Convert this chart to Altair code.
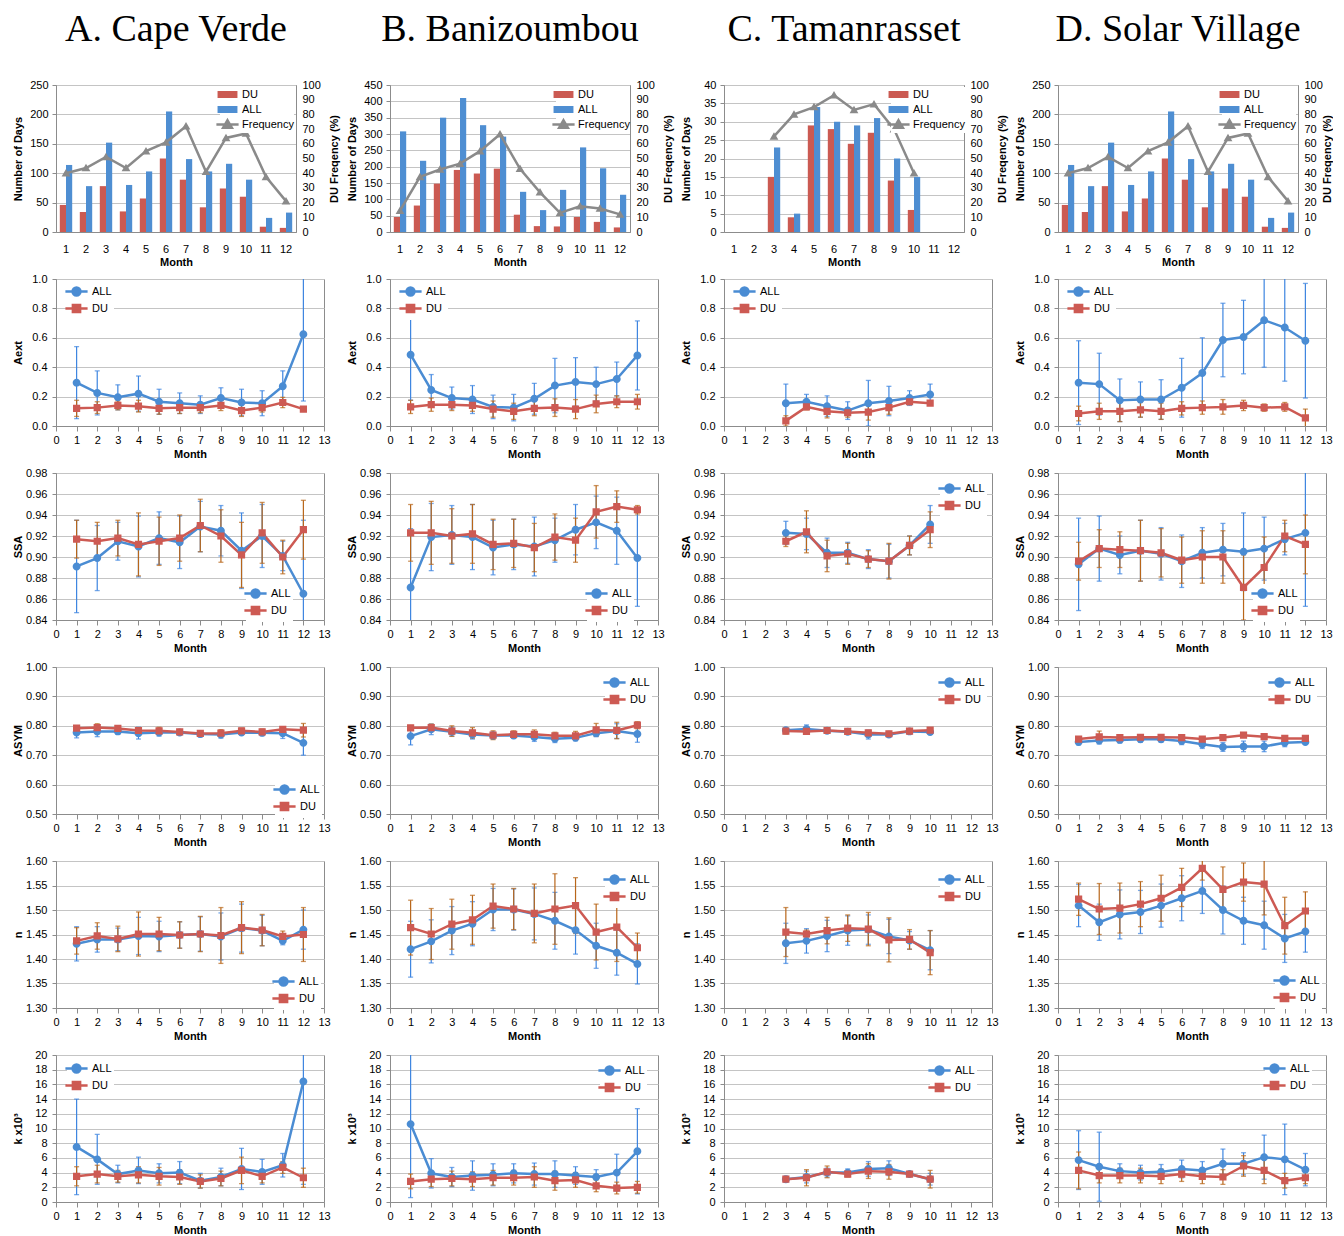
import altair as alt
import pandas as pd

SITES = ["A. Cape Verde", "B. Banizoumbou", "C. Tamanrasset", "D. Solar Village"]
MONTHS = list(range(1, 13))
MONTHS_TM = list(range(3, 11))

# ---------------- Row 1: number of days and DU frequency ----------------
CV_DAYS_DU = [46, 34, 78, 35, 57, 125, 89, 42, 74, 60, 9, 7]
CV_DAYS_ALL = [114, 78, 152, 80, 103, 205, 124, 103, 116, 89, 24, 33]
CV_FREQ = [40, 43.5, 51, 43.5, 55, 61, 72, 41, 64, 67, 37.5, 21]
BZ_DAYS_DU = [46, 81, 148, 190, 179, 194, 53, 18, 17, 46, 31, 14]
BZ_DAYS_ALL = [308, 218, 350, 410, 327, 292, 123, 67, 129, 259, 195, 114]
BZ_FREQ = [14.5, 37.5, 42.5, 46.5, 55, 66.5, 43, 27, 13, 17.5, 16, 12]
TM_DAYS_DU = [15, 4, 29, 28, 24, 27, 14, 6]
TM_DAYS_ALL = [23, 5, 34, 30, 29, 31, 20, 15]
TM_FREQ = [65, 80, 85, 93, 83, 87, 70, 40]
SV_DAYS_DU = [46, 34, 78, 35, 57, 125, 89, 42, 74, 60, 9, 7]
SV_DAYS_ALL = [114, 78, 152, 80, 103, 205, 124, 103, 116, 89, 24, 33]
SV_FREQ = [40, 43.5, 51, 43.5, 55, 61, 72, 41, 64, 67, 37.5, 21]

# ---------------- Aext ----------------
CV_AEXT_ALL = [0.295, 0.225, 0.195, 0.22, 0.165, 0.155, 0.145, 0.19, 0.16, 0.155, 0.27, 0.625]
CV_AEXT_ALL_SD = [0.245, 0.15, 0.085, 0.12, 0.085, 0.07, 0.06, 0.07, 0.09, 0.085, 0.105, 0.455]
CV_AEXT_DU = [0.12, 0.125, 0.14, 0.135, 0.12, 0.125, 0.125, 0.14, 0.105, 0.125, 0.16, 0.115]
CV_AEXT_DU_SD = [0.055, 0.04, 0.03, 0.04, 0.04, 0.04, 0.035, 0.035, 0.04, 0.03, 0.035, 0.015]
BZ_AEXT_ALL = [0.485, 0.245, 0.19, 0.18, 0.13, 0.125, 0.185, 0.275, 0.30, 0.285, 0.32, 0.48]
BZ_AEXT_ALL_SD = [0.31, 0.105, 0.075, 0.095, 0.08, 0.09, 0.105, 0.185, 0.165, 0.115, 0.115, 0.235]
BZ_AEXT_DU = [0.13, 0.145, 0.145, 0.14, 0.115, 0.10, 0.12, 0.125, 0.115, 0.15, 0.165, 0.165]
BZ_AEXT_DU_SD = [0.045, 0.045, 0.04, 0.04, 0.055, 0.055, 0.05, 0.06, 0.065, 0.06, 0.04, 0.05]
TM_AEXT_ALL = [0.155, 0.165, 0.135, 0.105, 0.155, 0.17, 0.19, 0.215]
TM_AEXT_ALL_SD = [0.13, 0.05, 0.07, 0.06, 0.155, 0.10, 0.05, 0.07]
TM_AEXT_DU = [0.035, 0.13, 0.10, 0.09, 0.095, 0.125, 0.165, 0.155]
TM_AEXT_DU_SD = [0.035, 0.02, 0.045, 0.03, 0.055, 0.045, 0.02, 0.01]
SV_AEXT_ALL = [0.295, 0.285, 0.175, 0.18, 0.18, 0.26, 0.36, 0.585, 0.605, 0.72, 0.67, 0.58]
SV_AEXT_ALL_SD = [0.285, 0.21, 0.145, 0.12, 0.135, 0.20, 0.24, 0.25, 0.25, 0.32, 0.365, 0.39]
SV_AEXT_DU = [0.085, 0.10, 0.10, 0.11, 0.10, 0.12, 0.125, 0.13, 0.14, 0.125, 0.13, 0.055]
SV_AEXT_DU_SD = [0.05, 0.055, 0.07, 0.05, 0.055, 0.045, 0.045, 0.05, 0.035, 0.025, 0.03, 0.06]

# ---------------- SSA ----------------
CV_SSA_ALL = [0.891, 0.899, 0.915, 0.910, 0.918, 0.914, 0.929, 0.925, 0.906, 0.920, 0.901, 0.865]
CV_SSA_ALL_SD = [0.044, 0.031, 0.018, 0.029, 0.025, 0.025, 0.024, 0.024, 0.036, 0.030, 0.014, 0.070]
CV_SSA_DU = [0.917, 0.915, 0.918, 0.912, 0.915, 0.918, 0.930, 0.920, 0.902, 0.923, 0.900, 0.926]
CV_SSA_DU_SD = [0.018, 0.018, 0.017, 0.030, 0.023, 0.022, 0.025, 0.025, 0.031, 0.029, 0.016, 0.028]
BZ_SSA_ALL = [0.871, 0.919, 0.921, 0.919, 0.909, 0.912, 0.910, 0.916, 0.926, 0.933, 0.925, 0.899]
BZ_SSA_ALL_SD = [0.056, 0.032, 0.028, 0.031, 0.026, 0.024, 0.028, 0.021, 0.024, 0.025, 0.032, 0.046]
BZ_SSA_DU = [0.923, 0.923, 0.920, 0.922, 0.912, 0.913, 0.909, 0.919, 0.916, 0.943, 0.948, 0.945]
BZ_SSA_DU_SD = [0.027, 0.030, 0.026, 0.028, 0.024, 0.023, 0.023, 0.022, 0.021, 0.025, 0.015, 0.004]
TM_SSA_ALL = [0.923, 0.922, 0.904, 0.904, 0.898, 0.896, 0.911, 0.931]
TM_SSA_ALL_SD = [0.011, 0.015, 0.014, 0.010, 0.009, 0.016, 0.009, 0.018]
TM_SSA_DU = [0.915, 0.924, 0.901, 0.903, 0.898, 0.896, 0.911, 0.926]
TM_SSA_DU_SD = [0.005, 0.020, 0.015, 0.010, 0.008, 0.017, 0.009, 0.017]
SV_SSA_ALL = [0.893, 0.908, 0.902, 0.906, 0.903, 0.896, 0.904, 0.907, 0.905, 0.908, 0.917, 0.923]
SV_SSA_ALL_SD = [0.044, 0.031, 0.018, 0.029, 0.025, 0.025, 0.024, 0.025, 0.037, 0.030, 0.015, 0.070]
SV_SSA_DU = [0.896, 0.908, 0.907, 0.906, 0.904, 0.897, 0.900, 0.900, 0.871, 0.890, 0.920, 0.912]
SV_SSA_DU_SD = [0.018, 0.018, 0.017, 0.029, 0.023, 0.022, 0.025, 0.025, 0.031, 0.029, 0.015, 0.028]

# ---------------- ASYM ----------------
CV_ASYM_ALL = [0.777, 0.781, 0.781, 0.775, 0.777, 0.777, 0.772, 0.770, 0.777, 0.776, 0.775, 0.742]
CV_ASYM_ALL_SD = [0.018, 0.018, 0.010, 0.020, 0.012, 0.008, 0.010, 0.012, 0.008, 0.010, 0.018, 0.042]
CV_ASYM_DU = [0.792, 0.794, 0.791, 0.784, 0.783, 0.779, 0.774, 0.775, 0.783, 0.779, 0.788, 0.785]
CV_ASYM_DU_SD = [0.008, 0.013, 0.008, 0.010, 0.012, 0.008, 0.009, 0.012, 0.009, 0.010, 0.008, 0.023]
BZ_ASYM_ALL = [0.765, 0.788, 0.780, 0.770, 0.767, 0.767, 0.762, 0.756, 0.759, 0.775, 0.782, 0.772]
BZ_ASYM_ALL_SD = [0.030, 0.018, 0.015, 0.015, 0.012, 0.010, 0.015, 0.013, 0.010, 0.012, 0.025, 0.028]
BZ_ASYM_DU = [0.793, 0.794, 0.782, 0.776, 0.768, 0.771, 0.771, 0.766, 0.766, 0.786, 0.784, 0.802]
BZ_ASYM_DU_SD = [0.008, 0.012, 0.018, 0.018, 0.015, 0.012, 0.015, 0.012, 0.015, 0.022, 0.028, 0.012]
TM_ASYM_ALL = [0.785, 0.789, 0.783, 0.780, 0.770, 0.770, 0.781, 0.779]
TM_ASYM_ALL_SD = [0.006, 0.014, 0.006, 0.006, 0.015, 0.008, 0.005, 0.008]
TM_ASYM_DU = [0.782, 0.781, 0.784, 0.781, 0.776, 0.773, 0.782, 0.785]
TM_ASYM_DU_SD = [0.010, 0.008, 0.006, 0.005, 0.008, 0.008, 0.006, 0.006]
SV_ASYM_ALL = [0.745, 0.750, 0.752, 0.754, 0.754, 0.748, 0.737, 0.728, 0.730, 0.730, 0.742, 0.745]
SV_ASYM_ALL_SD = [0.010, 0.012, 0.010, 0.010, 0.010, 0.012, 0.014, 0.015, 0.018, 0.018, 0.013, 0.008]
SV_ASYM_DU = [0.755, 0.762, 0.760, 0.761, 0.761, 0.760, 0.755, 0.760, 0.768, 0.763, 0.757, 0.757]
SV_ASYM_DU_SD = [0.006, 0.020, 0.007, 0.007, 0.007, 0.006, 0.006, 0.006, 0.007, 0.007, 0.006, 0.008]

# ---------------- n ----------------
CV_N_ALL = [1.431, 1.440, 1.440, 1.447, 1.446, 1.449, 1.451, 1.446, 1.463, 1.458, 1.437, 1.460]
CV_N_ALL_SD = [0.035, 0.026, 0.023, 0.038, 0.031, 0.027, 0.035, 0.048, 0.049, 0.031, 0.008, 0.040]
CV_N_DU = [1.437, 1.447, 1.441, 1.451, 1.451, 1.449, 1.451, 1.448, 1.464, 1.459, 1.446, 1.450]
CV_N_DU_SD = [0.027, 0.027, 0.026, 0.045, 0.034, 0.027, 0.036, 0.057, 0.053, 0.032, 0.011, 0.055]
BZ_N_ALL = [1.420, 1.436, 1.458, 1.472, 1.501, 1.501, 1.492, 1.478, 1.459, 1.427, 1.413, 1.390]
BZ_N_ALL_SD = [0.057, 0.044, 0.049, 0.045, 0.043, 0.042, 0.053, 0.058, 0.049, 0.046, 0.046, 0.041]
BZ_N_DU = [1.464, 1.451, 1.471, 1.480, 1.508, 1.502, 1.493, 1.502, 1.509, 1.455, 1.465, 1.423]
BZ_N_DU_SD = [0.056, 0.052, 0.051, 0.050, 0.045, 0.042, 0.060, 0.072, 0.057, 0.057, 0.070, 0.030]
TM_N_ALL = [1.432, 1.437, 1.447, 1.458, 1.460, 1.446, 1.438, 1.418]
TM_N_ALL_SD = [0.041, 0.025, 0.032, 0.030, 0.030, 0.035, 0.018, 0.040]
TM_N_DU = [1.455, 1.451, 1.458, 1.463, 1.461, 1.439, 1.440, 1.413]
TM_N_DU_SD = [0.050, 0.008, 0.027, 0.027, 0.034, 0.045, 0.020, 0.045]
SV_N_ALL = [1.509, 1.475, 1.491, 1.496, 1.509, 1.524, 1.539, 1.500, 1.478, 1.469, 1.442, 1.456]
SV_N_ALL_SD = [0.043, 0.037, 0.050, 0.044, 0.044, 0.046, 0.046, 0.049, 0.048, 0.049, 0.049, 0.042]
SV_N_DU = [1.522, 1.502, 1.504, 1.512, 1.524, 1.546, 1.585, 1.542, 1.557, 1.553, 1.468, 1.498]
SV_N_DU_SD = [0.033, 0.052, 0.051, 0.046, 0.047, 0.039, 0.024, 0.046, 0.039, 0.063, 0.058, 0.039]

# ---------------- k x 10^3 ----------------
CV_K_ALL = [7.5, 5.8, 3.8, 4.3, 3.9, 4.0, 2.9, 3.4, 4.5, 4.1, 5.0, 16.4]
CV_K_ALL_SD = [6.5, 3.4, 1.2, 1.8, 1.3, 1.5, 1.0, 1.2, 2.8, 1.7, 1.6, 14.0]
CV_K_DU = [3.5, 3.8, 3.5, 3.7, 3.5, 3.4, 2.8, 3.2, 4.3, 3.5, 4.7, 3.3]
CV_K_DU_SD = [1.3, 1.2, 0.8, 1.1, 1.2, 1.0, 0.9, 1.0, 1.8, 0.9, 0.8, 1.3]
BZ_K_ALL = [10.6, 3.9, 3.4, 3.6, 3.7, 3.9, 3.8, 3.8, 3.6, 3.4, 4.0, 6.9]
BZ_K_ALL_SD = [10.0, 2.0, 1.3, 2.0, 1.5, 1.3, 1.5, 1.8, 1.2, 1.0, 2.5, 5.8]
BZ_K_DU = [2.8, 3.1, 3.2, 3.1, 3.3, 3.3, 3.4, 2.9, 3.0, 2.2, 1.9, 2.0]
BZ_K_DU_SD = [1.0, 1.0, 1.0, 1.0, 1.0, 1.0, 1.4, 1.3, 1.0, 0.8, 0.8, 0.8]
TM_K_ALL = [3.1, 3.4, 4.0, 4.0, 4.5, 4.6, 3.8, 3.1]
TM_K_ALL_SD = [0.4, 0.8, 0.6, 0.5, 1.0, 1.0, 0.3, 0.8]
TM_K_DU = [3.1, 3.3, 4.1, 3.8, 4.2, 4.1, 3.8, 3.1]
TM_K_DU_SD = [0.3, 1.1, 0.8, 0.4, 1.0, 1.0, 0.3, 1.2]
SV_K_ALL = [5.7, 4.8, 4.2, 4.0, 4.1, 4.5, 4.3, 5.2, 5.2, 6.1, 5.8, 4.4]
SV_K_ALL_SD = [4.0, 4.7, 1.0, 1.0, 1.0, 1.2, 1.2, 2.0, 1.5, 3.0, 4.8, 2.2]
SV_K_DU = [4.3, 3.6, 3.6, 3.6, 3.5, 3.8, 3.5, 3.4, 4.9, 4.3, 2.9, 3.3]
SV_K_DU_SD = [2.5, 1.0, 1.0, 1.0, 1.0, 1.0, 1.0, 1.0, 1.4, 1.8, 1.0, 0.8]

# ---------------- styling ----------------
FONT = "Liberation Sans"
SERIF = "Liberation Serif"
C_ALL = "#4A8CD3"
C_DU = "#CD5A53"
C_ALL_ERR = "#3D85E0"
C_DU_ERR = "#B8661A"
C_BAR_DU = "#CB5A52"
C_BAR_ALL = "#4E8ED2"
C_FREQ = "#8A8A8A"
AXC = "#8C8C8C"
GRID = "#C4C4C4"

# marker glyphs (line segment + marker) in symbol units; symbol size 144 -> 6 px per unit
CIRC = "M-1.85,0H1.85M-0.66,0A0.66,0.66,0,1,1,0.66,0A0.66,0.66,0,1,1,-0.66,0Z"
SQR = "M-1.85,0H1.85M-0.6,-0.6H0.6V0.6H-0.6Z"
RECT = "M-1.45,-0.38H1.45V0.38H-1.45Z"
TRI = "M-1.85,0H1.85M0,-0.7L0.73,0.55H-0.73Z"
SYM = 144

LINE_W, LINE_H = 268, 147
BAR_W = 240


def legend(lx, ly, row_pad=-3, pad=2, label_off=8):
    return alt.Legend(orient="none", legendX=lx, legendY=ly, title=None,
                      fillColor="white", padding=pad, symbolSize=SYM,
                      symbolStrokeWidth=2.5, labelFont=FONT, labelFontSize=11,
                      labelColor="black", rowPadding=row_pad, labelOffset=label_off)


def bar_panel(title, months, du, al, fr, ymax, ystep, lx, rtx):
    rows = [dict(month=m, series="DU", days=v) for m, v in zip(months, du)]
    rows += [dict(month=m, series="ALL", days=v) for m, v in zip(months, al)]
    df_bar = pd.DataFrame(rows)
    df_fr = pd.DataFrame(dict(month=months, freq=fr, series=["Frequency"] * len(months)))
    dom = ["DU", "ALL", "Frequency"]
    cscale = alt.Scale(domain=dom, range=[C_BAR_DU, C_BAR_ALL, C_FREQ])
    sscale = alt.Scale(domain=dom, range=[RECT, RECT, TRI])
    leg = legend(lx, 2, row_pad=-6, pad=0, label_off=7)
    x = alt.X("month:O", scale=alt.Scale(domain=MONTHS, paddingInner=0.38, paddingOuter=0.19),
              axis=alt.Axis(title="Month", labelAngle=0, ticks=False, labelPadding=11, titlePadding=2))
    yl = alt.Y("days:Q", scale=alt.Scale(domain=[0, ymax], nice=False),
               axis=alt.Axis(values=list(range(0, ymax + 1, ystep)), title="Number of Days",
                             tickSize=4, labelPadding=4, titleX=-38, titleBaseline="middle"))
    yr_axis = alt.Axis(orient="right", values=list(range(0, 101, 10)), title="DU Freqency (%)",
                       tickSize=0, labelPadding=6, titleX=rtx, titleAngle=270,
                       titleBaseline="middle", grid=False)
    yr = alt.Y("freq:Q", scale=alt.Scale(domain=[0, 100], nice=False), axis=yr_axis)
    bars = alt.Chart(df_bar).mark_bar().encode(
        x=x,
        xOffset=alt.XOffset("series:N", scale=alt.Scale(domain=["DU", "ALL"], paddingInner=0, paddingOuter=0)),
        y=yl,
        color=alt.Color("series:N", scale=cscale, legend=leg),
    )
    line = alt.Chart(df_fr).mark_line(strokeWidth=2.5).encode(
        x=x, y=yr, color=alt.Color("series:N", scale=cscale, legend=leg))
    pts = alt.Chart(df_fr).mark_point(filled=True, opacity=1, size=SYM).encode(
        x=x, y=yr, color=alt.Color("series:N", scale=cscale, legend=leg),
        shape=alt.Shape("series:N", scale=sscale, legend=leg))
    return alt.layer(bars, alt.layer(line, pts)).resolve_scale(y="independent").properties(
        width=BAR_W, height=LINE_H,
        title=alt.TitleParams(title, font=SERIF, fontSize=38, fontWeight="normal", anchor="middle",
                              frame="group", offset=0, baseline="alphabetic", color="black"))


def line_panel(months, a, a_sd, d, d_sd, ydom, yvals, yfmt, ytitle, lx, ly):
    rows = []
    for m, v, s in zip(months, a, a_sd):
        rows.append(dict(month=m, series="ALL", val=v, lo=v - s, hi=v + s))
    for m, v, s in zip(months, d, d_sd):
        rows.append(dict(month=m, series="DU", val=v, lo=v - s, hi=v + s))
    df = pd.DataFrame(rows)
    x = alt.X("month:Q", scale=alt.Scale(domain=[0, 13], nice=False, zero=False),
              axis=alt.Axis(values=list(range(14)), title="Month", grid=False, format="d",
                            tickSize=5, labelPadding=3, titlePadding=3, labelFlush=False))
    yax = alt.Axis(values=yvals, format=yfmt, title=ytitle, grid=True, tickSize=4,
                   labelPadding=5, titleX=-38, titleBaseline="middle")
    ysc = alt.Scale(domain=ydom, nice=False, zero=False)
    leg = legend(lx, ly)
    base = alt.Chart(df)
    layers = []
    for ser, col in (("ALL", C_ALL_ERR), ("DU", C_DU_ERR)):
        b = base.transform_filter(alt.datum.series == ser)
        layers.append(b.mark_rule(color=col, strokeWidth=1.2, clip=True).encode(
            x=x, y=alt.Y("lo:Q", scale=ysc, axis=yax), y2="hi:Q"))
        for fld in ("lo", "hi"):
            layers.append(b.mark_tick(color=col, orient="horizontal", size=5, thickness=1.3,
                                      clip=True).encode(x=x, y=alt.Y(f"{fld}:Q", scale=ysc, axis=yax)))
    cscale = alt.Scale(domain=["ALL", "DU"], range=[C_ALL, C_DU])
    sscale = alt.Scale(domain=["ALL", "DU"], range=[CIRC, SQR])
    layers.append(base.mark_line(strokeWidth=2.5, clip=True).encode(
        x=x, y=alt.Y("val:Q", scale=ysc, axis=yax),
        color=alt.Color("series:N", scale=cscale, legend=leg)))
    layers.append(base.mark_point(filled=True, opacity=1, size=SYM, clip=True).encode(
        x=x, y=alt.Y("val:Q", scale=ysc, axis=yax),
        color=alt.Color("series:N", scale=cscale, legend=leg),
        shape=alt.Shape("series:N", scale=sscale, legend=leg)))
    return alt.layer(*layers).properties(width=LINE_W, height=LINE_H)


AEXT_V = [0, 0.2, 0.4, 0.6, 0.8, 1.0]
SSA_V = [0.84, 0.86, 0.88, 0.90, 0.92, 0.94, 0.96, 0.98]
ASYM_V = [0.5, 0.6, 0.7, 0.8, 0.9, 1.0]
N_V = [1.30, 1.35, 1.40, 1.45, 1.50, 1.55, 1.60]
K_V = list(range(0, 21, 2))

panels = [
    bar_panel(SITES[0], MONTHS, CV_DAYS_DU, CV_DAYS_ALL, CV_FREQ, 250, 50, 164, 38),
    bar_panel(SITES[1], MONTHS, BZ_DAYS_DU, BZ_DAYS_ALL, BZ_FREQ, 450, 50, 166, 38),
    bar_panel(SITES[2], MONTHS_TM, TM_DAYS_DU, TM_DAYS_ALL, TM_FREQ, 40, 5, 167, 38),
    bar_panel(SITES[3], MONTHS, SV_DAYS_DU, SV_DAYS_ALL, SV_FREQ, 250, 50, 164, 29),

    line_panel(MONTHS, CV_AEXT_ALL, CV_AEXT_ALL_SD, CV_AEXT_DU, CV_AEXT_DU_SD, [0, 1], AEXT_V, ".1f", "Aext", 11, 3),
    line_panel(MONTHS, BZ_AEXT_ALL, BZ_AEXT_ALL_SD, BZ_AEXT_DU, BZ_AEXT_DU_SD, [0, 1], AEXT_V, ".1f", "Aext", 11, 3),
    line_panel(MONTHS_TM, TM_AEXT_ALL, TM_AEXT_ALL_SD, TM_AEXT_DU, TM_AEXT_DU_SD, [0, 1], AEXT_V, ".1f", "Aext", 11, 3),
    line_panel(MONTHS, SV_AEXT_ALL, SV_AEXT_ALL_SD, SV_AEXT_DU, SV_AEXT_DU_SD, [0, 1], AEXT_V, ".1f", "Aext", 11, 3),

    line_panel(MONTHS, CV_SSA_ALL, CV_SSA_ALL_SD, CV_SSA_DU, CV_SSA_DU_SD, [0.84, 0.98], SSA_V, ".2f", "SSA", 190, 111),
    line_panel(MONTHS, BZ_SSA_ALL, BZ_SSA_ALL_SD, BZ_SSA_DU, BZ_SSA_DU_SD, [0.84, 0.98], SSA_V, ".2f", "SSA", 197, 111),
    line_panel(MONTHS_TM, TM_SSA_ALL, TM_SSA_ALL_SD, TM_SSA_DU, TM_SSA_DU_SD, [0.84, 0.98], SSA_V, ".2f", "SSA", 216, 6),
    line_panel(MONTHS, SV_SSA_ALL, SV_SSA_ALL_SD, SV_SSA_DU, SV_SSA_DU_SD, [0.84, 0.98], SSA_V, ".2f", "SSA", 195, 111),

    line_panel(MONTHS, CV_ASYM_ALL, CV_ASYM_ALL_SD, CV_ASYM_DU, CV_ASYM_DU_SD, [0.5, 1.0], ASYM_V, ".2f", "ASYM", 219, 113),
    line_panel(MONTHS, BZ_ASYM_ALL, BZ_ASYM_ALL_SD, BZ_ASYM_DU, BZ_ASYM_DU_SD, [0.5, 1.0], ASYM_V, ".2f", "ASYM", 215, 6),
    line_panel(MONTHS_TM, TM_ASYM_ALL, TM_ASYM_ALL_SD, TM_ASYM_DU, TM_ASYM_DU_SD, [0.5, 1.0], ASYM_V, ".2f", "ASYM", 216, 6),
    line_panel(MONTHS, SV_ASYM_ALL, SV_ASYM_ALL_SD, SV_ASYM_DU, SV_ASYM_DU_SD, [0.5, 1.0], ASYM_V, ".2f", "ASYM", 212, 6),

    line_panel(MONTHS, CV_N_ALL, CV_N_ALL_SD, CV_N_DU, CV_N_DU_SD, [1.3, 1.6], N_V, ".2f", "n", 218, 111),
    line_panel(MONTHS, BZ_N_ALL, BZ_N_ALL_SD, BZ_N_DU, BZ_N_DU_SD, [1.3, 1.6], N_V, ".2f", "n", 215, 9),
    line_panel(MONTHS_TM, TM_N_ALL, TM_N_ALL_SD, TM_N_DU, TM_N_DU_SD, [1.3, 1.6], N_V, ".2f", "n", 216, 9),
    line_panel(MONTHS, SV_N_ALL, SV_N_ALL_SD, SV_N_DU, SV_N_DU_SD, [1.3, 1.6], N_V, ".2f", "n", 217, 110),

    line_panel(MONTHS, CV_K_ALL, CV_K_ALL_SD, CV_K_DU, CV_K_DU_SD, [0, 20], K_V, "d", "k x10³", 11, 4),
    line_panel(MONTHS, BZ_K_ALL, BZ_K_ALL_SD, BZ_K_DU, BZ_K_DU_SD, [0, 20], K_V, "d", "k x10³", 210, 6),
    line_panel(MONTHS_TM, TM_K_ALL, TM_K_ALL_SD, TM_K_DU, TM_K_DU_SD, [0, 20], K_V, "d", "k x10³", 206, 6),
    line_panel(MONTHS, SV_K_ALL, SV_K_ALL_SD, SV_K_DU, SV_K_DU_SD, [0, 20], K_V, "d", "k x10³", 207, 4),
]

chart = alt.concat(*panels, columns=4, spacing={"row": 47, "column": 66}, bounds="flush").resolve_scale(
    color="independent", shape="independent"
).resolve_legend(
    color="independent", shape="independent"
).properties(
    padding={"left": 3, "top": 2, "right": 0, "bottom": 0},
    background="white",
).configure_axis(
    labelFont=FONT, titleFont=FONT, labelFontSize=11, titleFontSize=11,
    labelColor="black", titleColor="black", titleFontWeight="bold",
    domainColor=AXC, tickColor=AXC, gridColor=GRID, gridWidth=1,
).configure_view(stroke=AXC, strokeWidth=1)

chart.save("out.html", embed_options={"renderer": "svg", "actions": False})
